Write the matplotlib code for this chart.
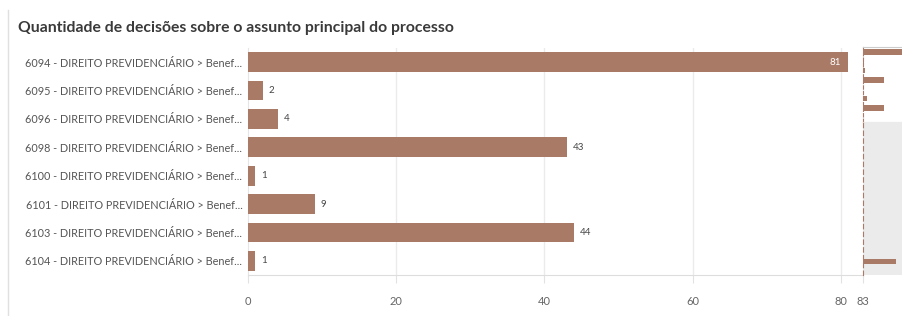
import matplotlib
matplotlib.use("Agg")
import matplotlib.pyplot as plt

title = "Quantidade de decisões sobre o assunto principal do processo"
categories = [
    "6094 - DIREITO PREVIDENCIÁRIO > Benef...",
    "6095 - DIREITO PREVIDENCIÁRIO > Benef...",
    "6096 - DIREITO PREVIDENCIÁRIO > Benef...",
    "6098 - DIREITO PREVIDENCIÁRIO > Benef...",
    "6100 - DIREITO PREVIDENCIÁRIO > Benef...",
    "6101 - DIREITO PREVIDENCIÁRIO > Benef...",
    "6103 - DIREITO PREVIDENCIÁRIO > Benef...",
    "6104 - DIREITO PREVIDENCIÁRIO > Benef...",
]
values = [81, 2, 4, 43, 1, 9, 44, 1]
x_ticks = [0, 20, 40, 60, 80, 83]
x_max = 83
mini_extra = [68, 1]

BAR = "#a97b67"
FONT = ["Lato", "DejaVu Sans"]
plt.rcParams["font.family"] = FONT

W, H = 903, 316
fig = plt.figure(figsize=(W / 100, H / 100), dpi=100)

def ax_rect(x0, y0, x1, y1):
    return [x0 / W, 1 - y1 / H, (x1 - x0) / W, (y1 - y0) / H]

# left frame line
fig.add_artist(plt.Line2D([8 / W, 8 / W], [0, 1 - 10 / H], color="#e0e0e0", lw=1))

fig.text(18 / W, 1 - 28 / H, title, fontsize=11.3, fontweight="bold",
         color="#3a3a3a", va="center", ha="left")

ax = fig.add_axes(ax_rect(248, 48, 863, 275))
n = len(values)
ypos = list(range(n))
ax.barh(ypos, values, height=0.7, color=BAR, zorder=3)
ax.set_ylim(n - 0.5, -0.5)
ax.set_xlim(0, x_max)
ax.set_yticks(ypos)
ax.set_yticklabels(categories, fontsize=7.8, color="#555555")
ax.tick_params(axis="y", length=0, pad=4)
ax.set_xticks(x_ticks)
ax.set_xticklabels([str(t) for t in x_ticks], fontsize=8, color="#666666")
ax.tick_params(axis="x", length=6, color="#e2e2e2", pad=9)
for t in x_ticks[1:-1]:
    ax.axvline(t, color="#ebebeb", lw=1, zorder=1)
for s in ["top", "right"]:
    ax.spines[s].set_visible(False)
ax.spines["bottom"].set_color("#dddddd")
ax.spines["left"].set_color("#e6e6e6")

for y, v in zip(ypos, values):
    if v > 70:
        ax.text(v - 1, y, str(v), color="white", fontsize=7, va="center", ha="right", zorder=4)
    else:
        ax.text(v + 0.8, y, str(v), color="#444444", fontsize=7, va="center", ha="left", zorder=4)

# minimap top (white)
mini = fig.add_axes(ax_rect(863, 47, 903, 122))
mini.barh(ypos, values, height=0.6, color=BAR)
mini.set_xlim(0, x_max)
mini.set_ylim(n - 0.5, -0.5)
mini.set_xticks([]); mini.set_yticks([])
mini.spines["right"].set_visible(False)
mini.spines["top"].set_color("#cccccc")
mini.spines["bottom"].set_color("#cccccc")
mini.spines["left"].set_color(BAR)
mini.spines["left"].set_linestyle((0, (3, 2)))

# minimap lower (grey)
mini2 = fig.add_axes(ax_rect(863, 122, 903, 275))
mini2.set_facecolor("#ebebeb")
mini2.set_xlim(0, x_max)
mini2.set_ylim(16.5, -0.5)
mini2.barh([15, 16], mini_extra, height=0.6, color=BAR)
mini2.set_xticks([]); mini2.set_yticks([])
for s in ["top", "right", "bottom"]:
    mini2.spines[s].set_visible(False)
mini2.spines["left"].set_color(BAR)
mini2.spines["left"].set_linestyle((0, (4, 3)))

fig.savefig("out.png", dpi=100)
